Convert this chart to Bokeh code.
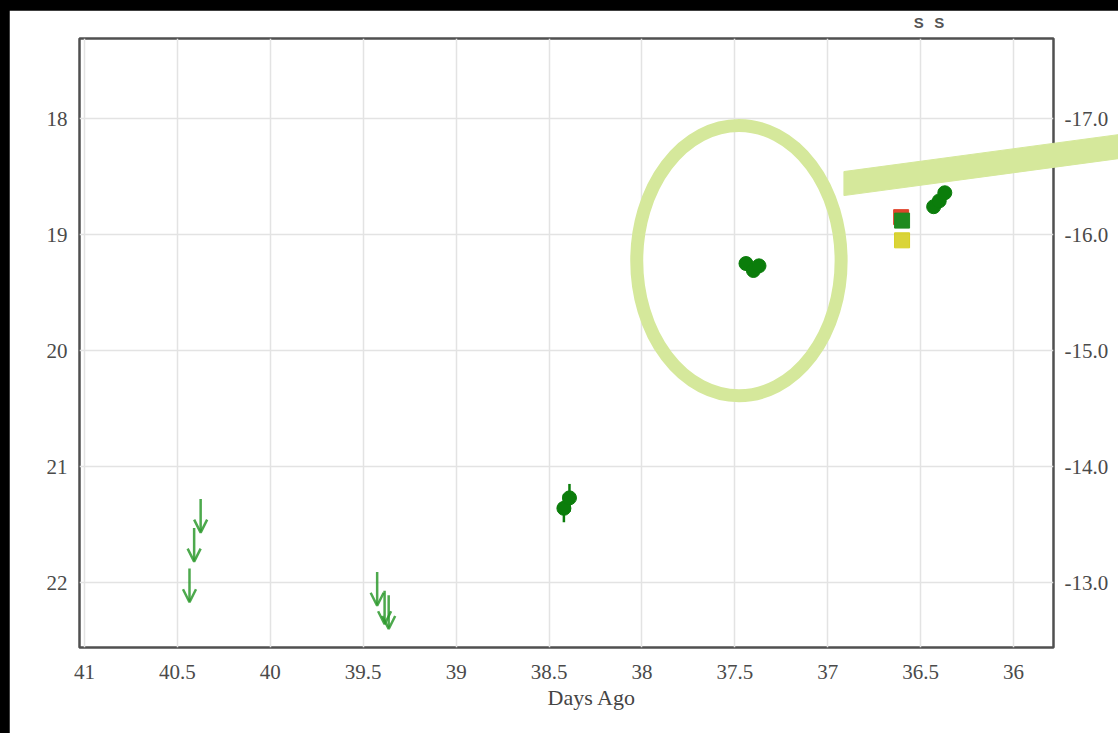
import re

from bokeh.plotting import figure
from bokeh.models import (ColumnDataSource, Range1d, LinearAxis, FixedTicker,
                          SingleIntervalTicker, NumeralTickFormatter,
                          CustomJSTickFormatter, Arrow, OpenHead, Title)
from bokeh.embed import file_html
from bokeh.resources import INLINE

# ---- photometry (days ago, apparent magnitude) ----
det_days = [38.42, 38.39, 37.44, 37.40, 37.37, 36.43, 36.40, 36.37]
det_mag = [21.36, 21.27, 19.25, 19.31, 19.27, 18.76, 18.71, 18.64]
det_err = [0.12, 0.12, 0.03, 0.03, 0.03, 0.03, 0.03, 0.03]

# non-detections: upper limits (mag where the arrow starts)
lim_days = [40.375, 40.41, 40.435, 39.425, 39.385, 39.363]
lim_mag = [21.28, 21.53, 21.88, 21.91, 22.07, 22.11]
lim_len = 0.29

# single-epoch measurements in other filters
red_day, red_mag = [36.605], [18.85]
grn_day, grn_mag = [36.60], [18.88]
yel_day, yel_mag = [36.60], [19.05]

# spectrum epochs marked along the top
spectra_days = [36.51, 36.40]

distance_modulus = 35.0
y_top, y_bot = 17.31, 22.56
x_left, x_right = 41.027, 35.785

# page layout (pixels)
PAGE_W, PAGE_H = 1118, 733
OFF_X, OFF_Y = 9, 10            # black margin round the chart card
FIG_W, FIG_H = PAGE_W - OFF_X, PAGE_H - OFF_Y
B_LEFT, B_RIGHT, B_TOP, B_BOTTOM = 70, 65, 28, 86

SERIF = "Liberation Serif"
GRID = "#e3e3e3"
HL = "#d5e89b"

p = figure(width=FIG_W, height=FIG_H, output_backend="svg", toolbar_location=None,
           x_range=Range1d(x_left, x_right), y_range=Range1d(y_bot, y_top),
           min_border_left=B_LEFT, min_border_right=B_RIGHT,
           min_border_top=B_TOP, min_border_bottom=B_BOTTOM,
           background_fill_color="white", border_fill_color="white")
p.outline_line_color = "#505050"
p.outline_line_width = 2.5

# bottom axis
xa = p.xaxis[0]
xa.ticker = SingleIntervalTicker(interval=0.5)
xa.formatter = NumeralTickFormatter(format="0[.]0")
# left axis
ya = p.yaxis[0]
ya.ticker = SingleIntervalTicker(interval=1)
ya.formatter = NumeralTickFormatter(format="0")

# right axis in absolute magnitude
p.extra_y_ranges = {"abs": Range1d(y_bot - distance_modulus, y_top - distance_modulus)}
ra = LinearAxis(y_range_name="abs", ticker=SingleIntervalTicker(interval=1),
                formatter=NumeralTickFormatter(format="0.0"))
p.add_layout(ra, "right")

# top axis with spectrum markers
ta = LinearAxis(ticker=FixedTicker(ticks=spectra_days),
                formatter=CustomJSTickFormatter(code="return 'S'"))
p.add_layout(ta, "above")

for ax in (xa, ya, ra, ta):
    ax.axis_line_color = None
    ax.major_tick_line_color = None
    ax.minor_tick_line_color = None
    ax.major_label_text_font = SERIF
    ax.major_label_text_color = "#4a4a4a"
    ax.major_label_text_font_size = "21px"
xa.major_label_standoff = 11
ya.major_label_standoff = 6
ra.major_label_standoff = 5
ta.major_label_text_font = "Liberation Sans"
ta.major_label_text_font_size = "15px"
ta.major_label_text_font_style = "bold"
ta.major_label_text_color = "#555555"
ta.major_label_standoff = 2

p.xgrid.grid_line_color = GRID
p.ygrid.grid_line_color = GRID
p.xgrid.grid_line_width = 1.5
p.ygrid.grid_line_width = 1.5

# axis title, set a little right of the frame centre
p.add_layout(Title(text="Days Ago", align="left", offset=468, text_font=SERIF,
                   text_font_size="22px", text_font_style="normal",
                   text_color="#444444", standoff=3), "below")

# hand-drawn loop round the mid epoch
p.ellipse(x=[37.478], y=[19.225], width=1.10, height=2.33, fill_color=None,
          line_color=HL, line_width=13)

# upper limits
lim_src = ColumnDataSource(dict(x=lim_days, y0=lim_mag,
                                y1=[m + lim_len for m in lim_mag]))
p.add_layout(Arrow(source=lim_src, x_start="x", y_start="y0", x_end="x",
                   y_end="y1", line_color="#2e9a2e", line_width=2.5,
                   line_alpha=0.85,
                   end=OpenHead(size=13, line_color="#2e9a2e", line_width=2.5,
                                line_alpha=0.85)))

# detections with error bars
det_src = ColumnDataSource(dict(x=det_days, y=det_mag,
                                lo=[m - e for m, e in zip(det_mag, det_err)],
                                hi=[m + e for m, e in zip(det_mag, det_err)]))
p.segment(x0="x", y0="lo", x1="x", y1="hi", source=det_src,
          line_color="#0b7d0b", line_width=2.5)
p.scatter(x="x", y="y", source=det_src, size=14, marker="circle",
          fill_color="#0b7d0b", line_color="#0b7d0b")

# other filters
p.scatter(red_day, red_mag, marker="square", size=15, fill_color="#e0452c",
          line_color="#e0452c")
p.scatter(yel_day, yel_mag, marker="square", size=15, fill_color="#d6cf22",
          line_color="#d6cf22", fill_alpha=0.9)
p.scatter(grn_day, grn_mag, marker="square", size=15, fill_color="#1f8a1f",
          line_color="#1f8a1f")

# transparent overlay sharing the chart's data coordinates, so the
# highlight stroke can run past the frame to the page edge
frame_w = FIG_W - B_LEFT - B_RIGHT
frame_h = FIG_H - B_TOP - B_BOTTOM
sx = frame_w / (x_left - x_right)
sy = frame_h / (y_bot - y_top)
over = figure(width=PAGE_W, height=PAGE_H, output_backend="svg",
              toolbar_location=None, x_axis_type=None, y_axis_type=None,
              x_range=Range1d(x_left + (OFF_X + B_LEFT) / sx, x_right - B_RIGHT / sx),
              y_range=Range1d(y_bot + B_BOTTOM / sy, y_top - (OFF_Y + B_TOP) / sy),
              min_border=0, outline_line_color=None,
              background_fill_alpha=0, border_fill_alpha=0)
over.patch(x=[36.913, 35.432, 35.432, 36.913], y=[18.457, 18.138, 18.345, 18.664],
           fill_color=HL, line_color=HL, line_width=1)

html = file_html([p, over], INLINE, title="Light curve")


def place(doc_html, model, left, top):
    pat = re.compile(r'<div[^>]*data-root-id="%s"[^>]*>\s*</div>' % re.escape(model.id))
    m = pat.search(doc_html)
    if not m:
        return doc_html
    wrapped = ('<div style="position:absolute;left:%dpx;top:%dpx;">' % (left, top)
               + m.group(0) + '</div>')
    return doc_html[:m.start()] + wrapped + doc_html[m.end():]


html = place(html, p, OFF_X, OFF_Y)
html = place(html, over, 0, 0)
css = ('<style>html,body{margin:0!important;padding:0!important;'
       'background:#000!important;overflow:hidden;}</style>')
html = html.replace("</head>", css + "</head>", 1)
open("out.html", "w").write(html)
